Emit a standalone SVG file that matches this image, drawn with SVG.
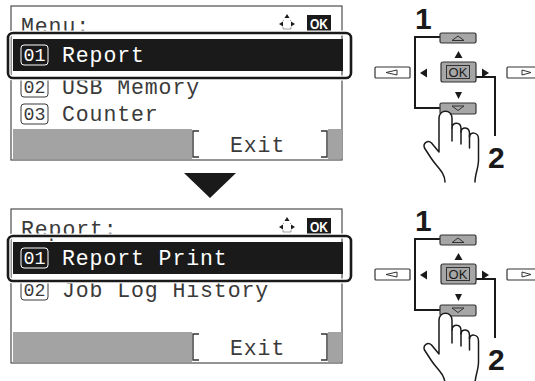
<svg xmlns="http://www.w3.org/2000/svg" width="535" height="381" viewBox="0 0 535 381">
<style>
.frame{fill:#fff;stroke:#4d4d4d;stroke-width:1.2}
.mono{font-family:"Liberation Mono","DejaVu Sans Mono",monospace;font-size:21.5px;letter-spacing:0.9px}
.row{fill:#3a3a3a}
.sel{fill:#fff}
.num{font-family:"Liberation Mono","DejaVu Sans Mono",monospace;font-size:18px;text-anchor:middle}
.nbox{fill:none;stroke:#3a3a3a;stroke-width:1}
.nbox-sel{fill:none;stroke:#fff;stroke-width:1}
.bar{fill:#a3a3a3}
.brk{fill:none;stroke:#333;stroke-width:1.4}
.halo{fill:none;stroke:#fff;stroke-width:5}
.ring{fill:none;stroke:#1a1a1a;stroke-width:2.6}
.key{fill:#a6a6a6;stroke:#333;stroke-width:1.2}
.keyw{fill:#fff;stroke:#333;stroke-width:1.2}
.glyph{fill:none;stroke:#333;stroke-width:1}
.tri{fill:#1a1a1a}
.lead{fill:none;stroke:#1a1a1a;stroke-width:2}
.step{font-family:"Liberation Sans",Arial,sans-serif;font-weight:bold;font-size:30px;fill:#1a1a1a}
.hand{fill:#fff;stroke:#1a1a1a;stroke-width:1.5;stroke-linejoin:round;stroke-linecap:round}
.oklbl{font-family:"Liberation Sans",Arial,sans-serif;font-size:13px;fill:#1a1a1a;text-anchor:middle}
</style>
<defs>
  <!-- navigation hint shown in the screen title bar -->
  <g id="nav-hint">
    <polygon class="tri" points="287,14 284.5,18 289.5,18"/>
    <polygon class="tri" points="279,24 283,21.5 283,26.5"/>
    <polygon class="tri" points="295,24 291,21.5 291,26.5"/>
    <path d="M284,20 L283,21 M290,20 L291,21 M283,27 V29 H291 V27" fill="none" stroke="#888" stroke-width="0.8"/>
    <rect x="307" y="15" width="24" height="16" fill="#1a1a1a"/>
    <text x="319" y="28.5" font-family="Liberation Sans,Arial,sans-serif" font-weight="bold" font-size="15" fill="#fff" text-anchor="middle" textLength="18" lengthAdjust="spacingAndGlyphs">OK</text>
  </g>
  <!-- soft-key strip at the bottom of the screen -->
  <g id="exit-strip">
    <rect class="bar" x="13" y="129" width="329" height="30"/>
    <rect x="192" y="129" width="136" height="30" fill="#fff"/>
    <path class="brk" d="M199,131 H193 V157 H199 M321,131 H327 V157 H321"/>
    <text class="mono row" x="230" y="152">Exit</text>
  </g>
  <!-- operation panel: arrow keys, OK key and pressing hand -->
  <g id="keypad">
    <path class="lead" d="M440,37 H415 V108 H440"/>
    <path class="lead" d="M469,77 H495 V136"/>
    <rect class="key" x="440" y="33" width="36" height="10" rx="1.5"/>
    <polygon class="glyph" points="452,40.5 458,36 464,40.5"/>
    <polygon class="tri" points="458.5,51 454.5,58 462.5,58"/>
    <rect class="keyw" x="375" y="67" width="35" height="11" rx="1"/>
    <polygon class="glyph" points="386,72.5 397,70 397,75"/>
    <polygon class="tri" points="420,73 427,68.5 427,77.5"/>
    <rect class="key" x="441" y="62" width="35" height="20" rx="2"/>
    <rect x="446.5" y="65.5" width="23" height="13" fill="none" stroke="#333" stroke-width="1"/>
    <text class="oklbl" x="458" y="77">OK</text>
    <polygon class="tri" points="489,73 482,68.5 482,77.5"/>
    <rect class="keyw" x="507" y="67" width="35" height="11" rx="1"/>
    <polygon class="glyph" points="522,70 522,75 531,72.5"/>
    <polygon class="tri" points="455,92 462,92 458.5,99"/>
    <rect class="key" x="440" y="103" width="36" height="11" rx="1.5"/>
    <polygon class="glyph" points="452,106 464,106 458,110.5"/>
    <text class="step" x="415" y="29">1</text>
    <text class="step" x="488" y="168">2</text>
    <path class="hand" d="M439,152 V118 C439,109 452,109 452,118 V128 C452,121.5 461,121.5 461,128.5 V132 C461,126.5 469.5,126.5 469.5,133.5 V137 C469.5,131.5 478.5,131.5 478.5,139 V160 C478.5,168 475,174 475,182 M445,182 C445,172 436,166 431,158 L424.5,148 C422.5,143 428,139.5 431.5,143 L439,152"/>
    <path class="hand" d="M452,128 V141 M461,131 V144 M469.5,135 V148"/>
  </g>
</defs>

<!-- first screen: main menu -->
<g id="menu-screen">
  <rect class="frame" x="11" y="6" width="331" height="154"/>
  <text class="mono row" x="21" y="33">Menu:</text>
  <use href="#nav-hint"/>
  <rect class="nbox" x="21" y="77" width="27" height="20" rx="3"/>
  <text class="num row" x="34.5" y="93" textLength="22" lengthAdjust="spacingAndGlyphs">02</text>
  <text class="mono row" x="62" y="93.5">USB Memory</text>
  <rect class="nbox" x="21" y="104" width="27" height="20" rx="3"/>
  <text class="num row" x="34.5" y="120" textLength="22" lengthAdjust="spacingAndGlyphs">03</text>
  <text class="mono row" x="62" y="121">Counter</text>
  <use href="#exit-strip"/>
  <rect class="halo" x="8" y="33" width="343" height="45" rx="5"/>
  <rect class="ring" x="8" y="33" width="343" height="45" rx="5"/>
  <rect x="13" y="39" width="330" height="32" fill="#1a1a1a"/>
  <rect class="nbox-sel" x="21" y="45" width="27" height="20" rx="3"/>
  <text class="num sel" x="34.5" y="61" textLength="22" lengthAdjust="spacingAndGlyphs">01</text>
  <text class="mono sel" x="62" y="62">Report</text>
</g>

<!-- step arrow between the screens -->
<g id="step-arrow">
  <polygon class="tri" points="184,173 236,173 210,198"/>
</g>

<!-- second screen: report submenu -->
<g id="report-screen" transform="translate(0,203)">
  <rect class="frame" x="11" y="6" width="331" height="154"/>
  <text class="mono row" x="21" y="33">Report:</text>
  <use href="#nav-hint"/>
  <rect class="nbox" x="21" y="77" width="27" height="20" rx="3"/>
  <text class="num row" x="34.5" y="93" textLength="22" lengthAdjust="spacingAndGlyphs">02</text>
  <text class="mono row" x="62" y="93.5">Job Log History</text>
  <use href="#exit-strip"/>
  <rect class="halo" x="8" y="33" width="343" height="45" rx="5"/>
  <rect class="ring" x="8" y="33" width="343" height="45" rx="5"/>
  <rect x="13" y="39" width="330" height="32" fill="#1a1a1a"/>
  <rect class="nbox-sel" x="21" y="45" width="27" height="20" rx="3"/>
  <text class="num sel" x="34.5" y="61" textLength="22" lengthAdjust="spacingAndGlyphs">01</text>
  <text class="mono sel" x="62" y="62">Report Print</text>
</g>

<!-- key panels for each step -->
<g id="keypad-step1">
  <use href="#keypad"/>
</g>
<g id="keypad-step2">
  <use href="#keypad" transform="translate(0,202)"/>
</g>
</svg>
